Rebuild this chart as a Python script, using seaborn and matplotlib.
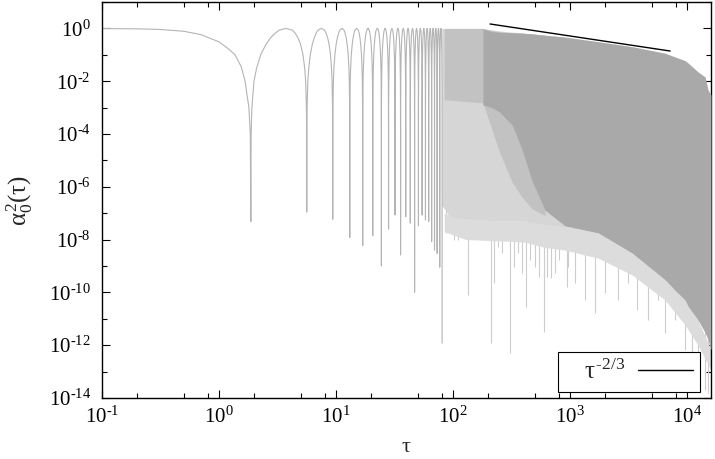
import math
import matplotlib
matplotlib.use('Agg')
import matplotlib.pyplot as plt
import matplotlib.ticker as mticker
import seaborn as sns

# ---- values ----
# smooth start of the curve, up to the first zero
head_tau = [0.1, 0.2, 0.3, 0.5, 0.7, 1.0, 1.2, 1.37, 1.55, 1.67, 1.8, 1.85]
head_a2 = [0.99, 0.96, 0.92, 0.78, 0.58, 0.31, 0.17, 0.1, 0.035, 1e-2, 1e-3, 1e-4]

# zeros of the oscillation and how deep each dip goes
zero_tau = [1.87, 5.62, 9.37, 13.1, 16.9, 20.6, 24.4, 28.1, 31.9, 35.6, 39.4,
            43.1, 46.9, 50.6, 54.4, 58.1, 61.9, 65.6, 69.4, 73.1, 76.9, 80.6]
zero_depth = [4.8e-8, 1.1e-7, 5.9e-8, 1.2e-8, 5.9e-9, 1.4e-8, 1e-9, 2.5e-8,
              8.5e-8, 2.6e-9, 7.4e-8, 4.2e-8, 1e-10, 3.3e-8, 8.5e-8, 5.5e-8,
              4.8e-8, 8.3e-9, 4e-9, 3e-9, 9e-10, 1.2e-12]

# shape of one arch read from the second lobe (offset from its zero, level)
arch_off = [0.01, 0.04, 0.12, 0.22, 0.4, 0.65, 0.9, 1.17, 1.4, 1.87]
arch_lvl = [1e-4, 1e-3, 1e-2, 3e-2, 0.1, 0.25, 0.45, 0.68, 0.86, 1.0]

# dense part: light band where the lines merge
band_tau = [80, 94, 130, 170, 250, 412, 906]
band_top = [1.0, 1.0, 1.0, 1.0, 0.8, 0.65, 0.47]
band_low = [2e-7, 7.4e-8, 6e-8, 5.5e-8, 5e-8, 5e-8, 3e-8]

# medium grey part of the band
mid_tau = [84, 180, 250, 320, 390, 470, 611]
mid_top = [1.0, 1.0, 0.72, 0.68, 0.66, 0.62, 0.55]
mid_low = [2e-3, 1.5e-3, 2e-5, 1.5e-6, 4e-7, 1.5e-7, 8e-8]

# saturated grey block
dense_tau = [180, 215, 250, 320, 390, 470, 611, 906, 1734, 3385, 6490, 7890,
             9620, 10200, 12400, 14250, 15100, 16000]
dense_top = [0.95, 0.75, 0.72, 0.68, 0.66, 0.62, 0.55, 0.47, 0.315, 0.204,
             0.115, 0.083, 0.06, 0.049, 0.0225, 0.0145, 0.0047, 0.003]
dense_low = [1.26e-3, 1e-3, 6.8e-4, 2.2e-4, 2.5e-5, 1.8e-6, 1.3e-7, 3.3e-8,
             1.8e-8, 3.1e-9, 3e-10, 1.2e-10, 5.1e-11, 3e-11, 9e-12, 3e-12,
             1.6e-12, 6.6e-13]

# ragged fringe under the grey
fringe_tau = [84, 130, 250, 412, 611, 906, 1734, 3385, 6490, 9620, 12400, 16000]
fringe_top = [1e-7, 6e-8, 5e-8, 5e-8, 8.6e-8, 3.3e-8, 1.8e-8, 3.1e-9, 3e-10,
              5.1e-11, 9e-12, 6.6e-13]
fringe_low = [2e-8, 1e-8, 9e-9, 8e-9, 5e-9, 4e-9, 2e-9, 4.6e-10, 5.1e-11,
              5.8e-12, 1e-12, 1.15e-13]

# single deep dips inside the dense part
spike_tau = [86.7, 102.5, 110.9, 117, 133.5, 144.5, 156.4, 167.8, 181.6, 209.9,
             225.6, 243.9, 263.8, 283.6, 306.9, 334, 361.6, 391, 423, 458, 502,
             547, 594, 632, 689, 745, 806, 938, 967, 1104, 1343, 1636, 1991,
             2588, 3150, 3715, 4670, 5690, 6490, 7890, 9620, 10960, 12500,
             14260, 15200]
spike_depth = [1.8e-8, 9.7e-9, 9.7e-9, 2.3e-8, 8e-11, 1.8e-8, 1.8e-8, 1.25e-8,
               9.7e-9, 1.2e-12, 2.3e-10, 5.2e-9, 3.1e-9, 1.8e-8, 4.9e-13,
               9.4e-10, 3.1e-9, 5.4e-10, 2.9e-11, 1.7e-9, 9.4e-10, 3.9e-10,
               3.3e-12, 3.9e-10, 3.4e-10, 5.4e-10, 1.7e-9, 1.6e-10, 9.4e-10,
               2.3e-10, 5.2e-11, 1.7e-11, 9.5e-11, 5.2e-11, 2.3e-10, 2.2e-11,
               9e-12, 5.2e-11, 2.9e-12, 9e-12, 6.6e-13, 1.5e-13, 3.7e-14,
               2e-14, 1.5e-14]

# tau^(-2/3) guide line end points
guide_tau = [207, 7160]
guide_val = [1.47, 0.139]

# put the arches between the zeros
curve_tau = list(head_tau)
curve_a2 = list(head_a2)
for k in range(len(zero_tau)):
    curve_tau.append(zero_tau[k])
    curve_a2.append(zero_depth[k])
    if k + 1 < len(zero_tau):
        for off, lv in zip(arch_off, arch_lvl):
            curve_tau.append(zero_tau[k] + off)
            curve_a2.append(lv)
        for off, lv in zip(arch_off[::-1], arch_lvl[::-1]):
            curve_tau.append(zero_tau[k + 1] - off)
            curve_a2.append(lv)

sns.set_theme(style='ticks')
plt.rcParams['font.family'] = ['Liberation Serif', 'DejaVu Serif']
plt.rcParams['mathtext.fontset'] = 'custom'
plt.rcParams['mathtext.rm'] = 'Liberation Serif'
plt.rcParams['mathtext.it'] = 'Liberation Serif'
plt.rcParams['mathtext.bf'] = 'Liberation Serif:bold'

fig = plt.figure(figsize=(7.15, 4.59), dpi=100)
ax = fig.add_axes([102 / 715, 61 / 459, 609 / 715, 396 / 459])
ax.set_xscale('log')
ax.set_yscale('log')

ax.vlines(spike_tau, spike_depth, 1e-4, color='#cdcdcd', lw=0.8, zorder=1)
ax.fill_between(fringe_tau, fringe_low, fringe_top, color='#dcdcdc', lw=0, zorder=1.5)
ax.fill_between(band_tau, band_low, band_top, color='#d6d6d6', lw=0, zorder=2)
ax.fill_between(mid_tau, mid_low, mid_top, color='#c2c2c2', lw=0, zorder=2.2)
ax.fill_between(dense_tau, dense_low, dense_top, color='#a9a9a9', lw=0, zorder=3)

sns.lineplot(x=curve_tau, y=curve_a2, ax=ax, color='#b4b4b4', lw=0.8,
             estimator=None, sort=False, zorder=2.5)
sns.lineplot(x=guide_tau, y=guide_val, ax=ax, color='black', lw=1.0,
             estimator=None, sort=False, zorder=4,
             label='   ' + r'$\tau^{\text{-2/3}}$')

ax.set_xlim(0.1, 16000)
ax.set_ylim(1e-14, 1e1)


def pow_label(v, pos):
    e = round(math.log10(v))
    if e < 0:
        return r'$10^{\text{-%d}}$' % (-e)
    return r'$10^{%d}$' % e


ax.xaxis.set_major_locator(mticker.LogLocator(base=10, numticks=20))
ax.xaxis.set_minor_locator(mticker.LogLocator(base=10, subs=[2, 5, 8], numticks=20))
ax.yaxis.set_major_locator(mticker.FixedLocator([10.0 ** e for e in range(-14, 1, 2)]))
ax.yaxis.set_minor_locator(mticker.FixedLocator([10.0 ** e for e in range(-13, 2, 2)]))
ax.xaxis.set_major_formatter(mticker.FuncFormatter(pow_label))
ax.yaxis.set_major_formatter(mticker.FuncFormatter(pow_label))
ax.xaxis.set_minor_formatter(mticker.NullFormatter())
ax.yaxis.set_minor_formatter(mticker.NullFormatter())

ax.tick_params(which='both', direction='in', top=True, right=True, colors='black',
               width=0.8, labelsize=15)
ax.tick_params(which='major', length=6)
ax.tick_params(which='minor', length=3.5)
ax.tick_params(axis='x', pad=6)
ax.tick_params(axis='y', pad=8)
for s in ax.spines.values():
    s.set_color('black')
    s.set_linewidth(1.0)

ax.set_xlabel(r'$\tau$', fontsize=16)
ax.set_ylabel(r'$\alpha_0^2(\tau)$', fontsize=18)
ax.xaxis.set_label_coords(0.5, -0.1)
ax.yaxis.set_label_coords(-0.11, 0.5)

handles, labels = ax.get_legend_handles_labels()
leg = ax.legend(handles, labels, loc='lower right', bbox_to_anchor=(0.982, 0.016),
                markerfirst=False, fancybox=False, framealpha=1, edgecolor='black',
                fontsize=18, handlelength=2.2, borderpad=0.3, handletextpad=0.5,
                borderaxespad=0)
leg.get_frame().set_linewidth(0.8)
leg.set_zorder(5)

fig.savefig('out.png', dpi=100)
